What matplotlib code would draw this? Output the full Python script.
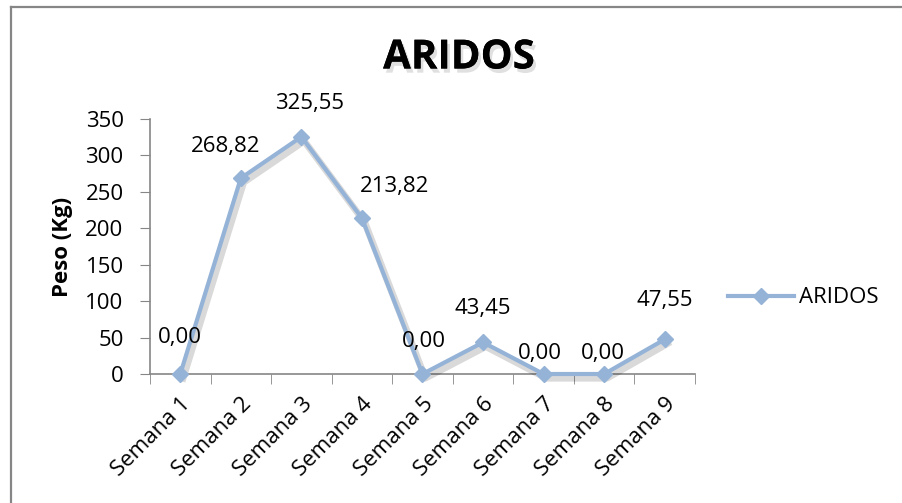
import numpy as np
import matplotlib.pyplot as plt
import matplotlib.patheffects as pe
from matplotlib.lines import Line2D

plt.rcParams['font.family'] = ['Open Sans', 'DejaVu Sans']

semanas = ['Semana 1', 'Semana 2', 'Semana 3', 'Semana 4', 'Semana 5',
           'Semana 6', 'Semana 7', 'Semana 8', 'Semana 9']
peso = [0.00, 268.82, 325.55, 213.82, 0.00, 43.45, 0.00, 0.00, 47.55]

# label offsets (pixels) as placed in the original
offsets = [(0, 36), (-15, 32), (8, 33), (33, 32), (1, 33),
           (0, 34), (-4, 21), (-1, 21), (0, 39)]

color = '#95b3d7'
grey = '#868686'
fs = 16

fig = plt.figure(figsize=(9.03, 5.03), dpi=100)
ax = fig.add_axes([150/903, 1-374/503, 545/903, 255/503])

x = np.arange(len(semanas))
# soft shadow under the line
shadow = [pe.SimpleLineShadow(offset=(2, -3), alpha=0.15, shadow_color='k', linewidth=5),
          pe.Normal()]
ax.plot(x, peso, color=color, lw=3, path_effects=shadow, clip_on=False, zorder=3)
ax.plot(x, peso, ls='none', marker='D', ms=8, mec=color, mfc=color,
        clip_on=False, zorder=4)

for xi, v, (dx, dy) in zip(x, peso, offsets):
    ax.annotate(f'{v:.2f}'.replace('.', ','), (xi, v), xytext=(dx, dy),
                textcoords='offset pixels', ha='center', va='center', fontsize=fs)

ax.set_xlim(-0.5, len(semanas) - 0.5)
ax.set_ylim(0, 350)
ax.set_yticks(np.arange(0, 351, 50))
ax.set_xticks(x)
ax.set_xticklabels(semanas, rotation=45, ha='right', rotation_mode='anchor', fontsize=fs)
ax.set_xticks(np.arange(-0.5, len(semanas)), minor=True)
ax.tick_params(axis='x', which='major', length=0, pad=14)
ax.tick_params(axis='x', which='minor', length=7, color=grey, direction='out')
ax.tick_params(axis='y', length=7, color=grey, labelsize=fs, pad=12)
for s in ['top', 'right']:
    ax.spines[s].set_visible(False)
for s in ['left', 'bottom']:
    ax.spines[s].set_color(grey)
    ax.spines[s].set_linewidth(1.2)

ax.set_ylabel('Peso (Kg)', fontsize=fs, fontweight='bold')
ax.yaxis.set_label_coords((73 - 150) / 545, 0.5)

fig.text(459/903, 1-58/503, 'ARIDOS', ha='center', va='center', fontsize=29,
         fontweight='bold',
         path_effects=[pe.withSimplePatchShadow(offset=(2, -3), alpha=0.12), pe.Normal()])

handle = Line2D([], [], color=color, lw=3, marker='D', ms=8, mec=color, mfc=color)
ax.legend([handle], ['ARIDOS'], loc='center left',
          bbox_to_anchor=(1.06, 1-(298-119)/255),
          frameon=False, fontsize=fs, handlelength=3.0, handletextpad=0.2,
          borderaxespad=0, borderpad=0)

# chart frame (left and top edges visible)
fig.add_artist(Line2D([11.5/903, 11.5/903], [0, 1-7/503], color=grey, lw=1.6))
fig.add_artist(Line2D([11.5/903, 1], [1-7/503, 1-7/503], color=grey, lw=1.6))

plt.savefig('out.png', dpi=100)
